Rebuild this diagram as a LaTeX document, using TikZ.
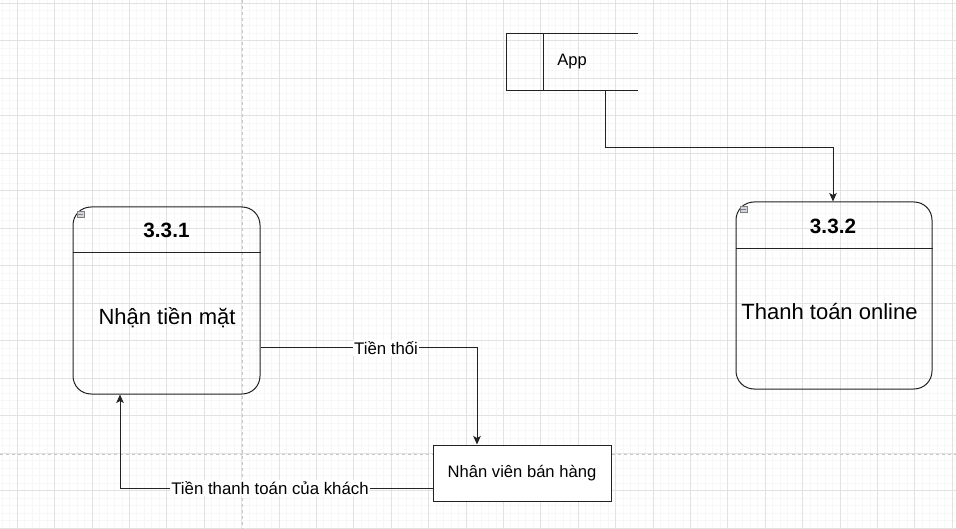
\documentclass[tikz,border=0pt]{standalone}
\usepackage{fontspec}
\setmainfont{Liberation Sans}
\usetikzlibrary{arrows.meta}
\definecolor{gridmajor}{HTML}{E2E2E2}
\definecolor{gridminor}{HTML}{F7F7F7}
\definecolor{pagebreak}{HTML}{C6C6C6}
\definecolor{iconfill}{HTML}{D0D4DC}
\definecolor{ink}{HTML}{222222}
\begin{document}
\begin{tikzpicture}[x=1pt,y=-1pt,
  line/.style={draw=ink, line width=1pt},
  arr/.style={line, -{Stealth[length=8.5pt,width=7.5pt,inset=2pt]}},
  procbox/.style={line, rounded corners=18pt, minimum height=187pt, inner sep=0pt},
  titletext/.style={inner sep=0pt, font=\fontsize{20.7}{24}\selectfont\bfseries},
  bodytext/.style={inner sep=0pt, font=\fontsize{22}{26}\selectfont},
  smalltext/.style={inner sep=0pt, font=\fontsize{16.5}{20}\selectfont},
  edgelabel/.style={fill=white, inner sep=1pt, font=\fontsize{16.8}{20}\selectfont},
  iconbox/.style={draw=gray, fill=iconfill, line width=0.5pt, minimum width=7pt, minimum height=6pt, inner sep=0pt}
]
\useasboundingbox (0,0) rectangle (956,529);
\fill[white] (0,0) rectangle (956,529);
% grid
\foreach \i in {0,...,128} { \draw[gridminor, line width=1pt] ({2.34+7.48*\i},0) -- ++(0,529); }
\foreach \i in {0,...,71} { \draw[gridminor, line width=1pt] (0,{3.3+7.5*\i}) -- ++(956,0); }
\foreach \i in {0,...,25} { \draw[gridmajor, line width=1pt] ({17.3+37.4*\i},0) -- ++(0,529); }
\foreach \i in {0,...,14} { \draw[gridmajor, line width=1pt] (0,{3.3+37.5*\i}) -- ++(956,0); }
\draw[pagebreak, line width=1pt, dash pattern=on 3pt off 3pt] (242,0) -- (242,529);
\draw[pagebreak, line width=1pt, dash pattern=on 3pt off 3pt] (0,454.5) -- (956,454.5);

% process 3.3.1
\node[procbox, minimum width=187pt] (p1) at (166.5,300.5) {};
\draw[line] ([yshift=-46.5pt]p1.north west) -- ([yshift=-46.5pt]p1.north east);
\node[titletext] (p1t) at (166.5,230) {3.3.1};
\node[bodytext] (p1b) at (167,318) {Nhận tiền mặt};
\node[iconbox] (p1i) at (80.5,214) {};
\draw[gray, line width=0.6pt] ([xshift=1.5pt]p1i.west) -- ([xshift=-1.5pt]p1i.east);

% process 3.3.2
\node[procbox, minimum width=196pt] (p2) at (834,295.5) {};
\draw[line] ([yshift=-47pt]p2.north west) -- ([yshift=-47pt]p2.north east);
\node[titletext] (p2t) at (833,226) {3.3.2};
\node[bodytext] (p2b) at (829.5,312) {Thanh toán online};
\node[iconbox] (p2i) at (743.5,209) {};
\draw[gray, line width=0.6pt] ([xshift=1.5pt]p2i.west) -- ([xshift=-1.5pt]p2i.east);

% data store App
\node[minimum width=131pt, minimum height=56pt, inner sep=0pt] (app) at (572.5,62) {};
\node[smalltext] (appt) at (572,62) {App};
\draw[line] (app.north east) -- (app.north west) -- (app.south west) -- (app.south east);
\draw[line] ([xshift=37pt]app.north west) -- ([xshift=37pt]app.south west);

% Nhân viên bán hàng
\node[line, fill=white, minimum width=178pt, minimum height=56pt, inner sep=0pt, font=\fontsize{16.6}{20}\selectfont] (nv) at (522,473) {Nhân viên bán hàng};

% connectors
\draw[arr] ([xshift=32.5pt]app.south) -- ++(0,57) -| ([xshift=-1pt]p2.north);
\draw[arr] ([yshift=-47.5pt]p1.east) -| node[edgelabel, pos=0.29] {Tiền thối} ([xshift=-45pt]nv.north);
\draw[arr] ([yshift=-15pt]nv.west) -| node[edgelabel, pos=0.26] {Tiền thanh toán của khách} ([xshift=-46.5pt]p1.south);
\end{tikzpicture}
\end{document}
